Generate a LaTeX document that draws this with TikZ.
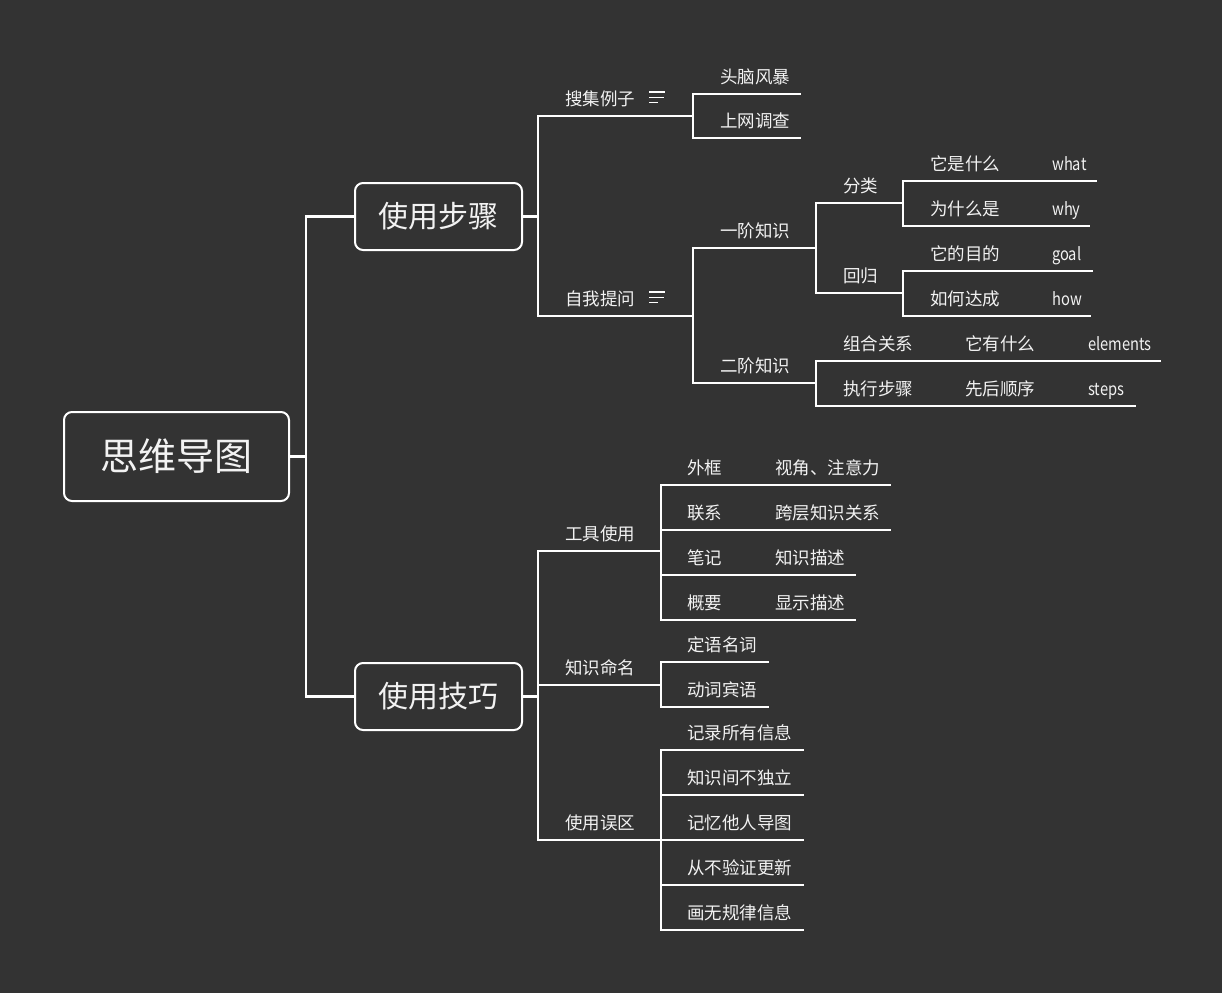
\documentclass[tikz,border=0pt]{standalone}
\usepackage{fontspec}
\setmainfont{Noto Sans CJK SC}
\newfontfamily\latn[FakeStretch=0.84]{Noto Sans CJK SC}
\definecolor{bg}{HTML}{333333}
\definecolor{fg}{HTML}{F2F2F2}
\newcommand\topicx[6]{% name, x1, x2, y(line), text x, text
  \coordinate (#1-s) at (#2,#4);
  \coordinate (#1-e) at (#3,#4);
  \node[lbl] (#1) at (#5,#4-11) {#6};
  \draw[conn] (#1-s) -- (#1-e);
}
\newcommand\noteicon[2]{% x, y(line)
  \draw[icon] (#1,#2-24) -- ++(16,0);
  \draw[icon] (#1,#2-18.7) -- ++(15,0);
  \draw[icon] (#1,#2-13.7) -- ++(9,0);
}
\begin{document}
\begin{tikzpicture}[x=1pt,y=-1pt,
  conn/.style={draw=white, line width=2.3pt, line cap=rect, line join=miter},
  icon/.style={draw=white, line width=1.5pt},
  box/.style={draw=white, line width=2pt, rounded corners=8pt, text=fg, inner sep=0pt},
  lbl/.style={anchor=base west, inner sep=0pt, text=fg, font=\fontsize{17.5}{20}\selectfont},
]
\fill[bg] (0,0) rectangle (1222,993);
\useasboundingbox (0,0) rectangle (1222,993);

% main boxes
\node[box, minimum width=225pt, minimum height=89pt, font=\fontsize{38}{41}\selectfont] (root) at (176.5,456.5) {思维导图};
\node[box, minimum width=167pt, minimum height=67pt, font=\fontsize{30}{34}\selectfont] (b1) at (438.5,216.5) {使用步骤};
\node[box, minimum width=167pt, minimum height=67pt, font=\fontsize{30}{34}\selectfont] (b2) at (438.5,696.5) {使用技巧};

\draw[conn] (root.east) -- ++(16,0) |- (b1.west);
\draw[conn] (root.east) -- ++(16,0) |- (b2.west);

% ---------- 使用步骤 ----------
\topicx{a1}{538}{693}{116}{565}{搜集例子}
\noteicon{649}{116}
\topicx{a2}{538}{693}{316}{565}{自我提问}
\noteicon{649}{316}
\draw[conn] (b1.east) -| (a1-s);
\draw[conn] (b1.east) -| (a2-s);

\topicx{a11}{693}{800}{94}{720}{头脑风暴}
\topicx{a12}{693}{800}{138}{720}{上网调查}
\draw[conn] (a1-e) |- (a11-s);
\draw[conn] (a1-e) |- (a12-s);

\topicx{a21}{693}{816}{248}{720}{一阶知识}
\topicx{a22}{693}{816}{383}{720}{二阶知识}
\draw[conn] (a2-e) |- (a21-s);
\draw[conn] (a2-e) |- (a22-s);

\topicx{c1}{816}{903}{203}{843}{分类}
\topicx{c2}{816}{903}{293}{843}{回归}
\draw[conn] (a21-e) |- (c1-s);
\draw[conn] (a21-e) |- (c2-s);

\topicx{d1}{903}{1043}{181}{930}{它是什么}
\topicx{d1x}{1043}{1096}{181}{1052}{\latn what}
\topicx{d2}{903}{1043}{226}{930}{为什么是}
\topicx{d2x}{1043}{1089}{226}{1052}{\latn why}
\draw[conn] (c1-e) |- (d1-s);
\draw[conn] (c1-e) |- (d2-s);

\topicx{d3}{903}{1043}{271}{930}{它的目的}
\topicx{d3x}{1043}{1092}{271}{1052}{\latn goal}
\topicx{d4}{903}{1043}{316}{930}{如何达成}
\topicx{d4x}{1043}{1090}{316}{1052}{\latn how}
\draw[conn] (c2-e) |- (d3-s);
\draw[conn] (c2-e) |- (d4-s);

\topicx{e1}{816}{955}{361}{843}{组合关系}
\topicx{e1a}{955}{1077}{361}{965}{它有什么}
\topicx{e1b}{1077}{1160}{361}{1088}{\latn elements}
\topicx{e2}{816}{955}{406}{843}{执行步骤}
\topicx{e2a}{955}{1077}{406}{965}{先后顺序}
\topicx{e2b}{1077}{1135}{406}{1088}{\latn steps}
\draw[conn] (a22-e) |- (e1-s);
\draw[conn] (a22-e) |- (e2-s);

% ---------- 使用技巧 ----------
\topicx{t1}{538}{661}{551}{565}{工具使用}
\topicx{t2}{538}{661}{685}{565}{知识命名}
\topicx{t3}{538}{661}{840}{565}{使用误区}
\draw[conn] (b2.east) -| (t1-s);
\draw[conn] (b2.east) -| (t2-s);
\draw[conn] (b2.east) -| (t3-s);

\topicx{u1}{661}{765}{485}{687}{外框}
\topicx{u1a}{765}{890}{485}{775}{视角、注意力}
\topicx{u2}{661}{765}{530}{687}{联系}
\topicx{u2a}{765}{890}{530}{775}{跨层知识关系}
\topicx{u3}{661}{765}{575}{687}{笔记}
\topicx{u3a}{765}{855}{575}{775}{知识描述}
\topicx{u4}{661}{765}{620}{687}{概要}
\topicx{u4a}{765}{855}{620}{775}{显示描述}
\foreach \k in {u1,u2,u3,u4} \draw[conn] (t1-e) |- (\k-s);

\topicx{v1}{661}{768}{662}{687}{定语名词}
\topicx{v2}{661}{768}{707}{687}{动词宾语}
\draw[conn] (t2-e) |- (v1-s);
\draw[conn] (t2-e) |- (v2-s);

\topicx{w1}{661}{803}{750}{687}{记录所有信息}
\topicx{w2}{661}{803}{795}{687}{知识间不独立}
\topicx{w3}{661}{803}{840}{687}{记忆他人导图}
\topicx{w4}{661}{803}{885}{687}{从不验证更新}
\topicx{w5}{661}{803}{930}{687}{画无规律信息}
\foreach \k in {w1,w2,w3,w4,w5} \draw[conn] (t3-e) |- (\k-s);
\end{tikzpicture}
\end{document}
